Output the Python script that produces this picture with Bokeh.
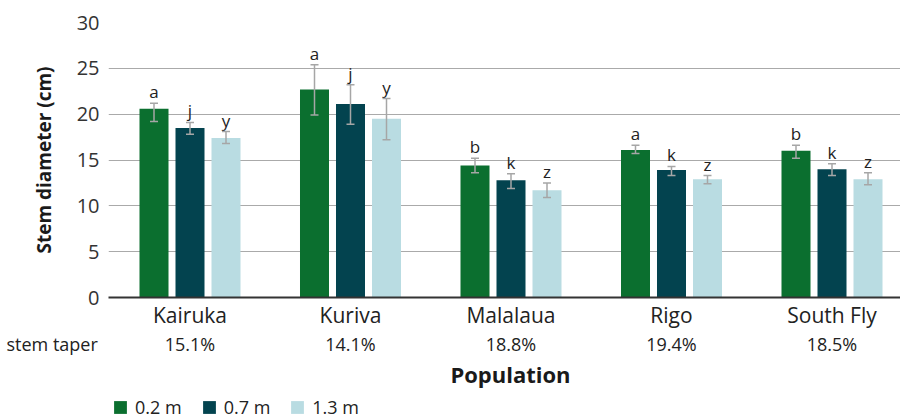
from bokeh.plotting import figure
from bokeh.models import (ColumnDataSource, Range1d, FixedTicker, LinearAxis, Whisker,
                          TeeHead, Legend, LegendItem)
from bokeh.layouts import column
from bokeh.core.properties import value
from bokeh.embed import file_html
from bokeh.resources import INLINE

# ---- data ----
categories = ["Kairuka", "Kuriva", "Malalaua", "Rigo", "South Fly"]
taper = ["15.1%", "14.1%", "18.8%", "19.4%", "18.5%"]
series = ["0.2 m", "0.7 m", "1.3 m"]

d02 = [20.6, 22.7, 14.4, 16.1, 16.0]
d07 = [18.5, 21.1, 12.8, 13.9, 14.0]
d13 = [17.4, 19.5, 11.7, 12.9, 12.9]

u02 = [21.2, 25.4, 15.2, 16.6, 16.6]
l02 = [19.2, 19.9, 13.6, 15.7, 15.2]
u07 = [19.1, 23.2, 13.5, 14.3, 14.6]
l07 = [17.8, 18.9, 11.9, 13.3, 13.3]
u13 = [18.1, 21.7, 12.5, 13.3, 13.6]
l13 = [16.8, 17.2, 10.9, 12.4, 12.3]

let02 = ["a", "a", "b", "a", "b"]
let07 = ["j", "j", "k", "k", "k"]
let13 = ["y", "y", "z", "z", "z"]

y_ticks = [0, 5, 10, 15, 20, 25, 30]

# ---- style / layout ----
colors = ["#0B6F2F", "#03434F", "#B9DCE2"]
FONT = "Open Sans"
TXT = "#222222"
offsets = [-0.2243, 0.0, 0.2243]
bar_w = 0.1807
X0, X1 = -0.5078, 4.4268          # main frame x range (frame: 108..900 px)
K = (X1 - X0) / 792.0             # data units per pixel

p = figure(width=900, height=331, output_backend="svg", toolbar_location=None,
           x_range=Range1d(X0, X1), y_range=Range1d(0, 30),
           min_border_left=108, min_border_right=0, min_border_top=22,
           min_border_bottom=32, x_axis_location=None)
p.frame_align = False
p.outline_line_color = None
p.xgrid.grid_line_color = None
p.ygrid.grid_line_color = "#aaaaaa"
p.ygrid.grid_line_width = 1
p.ygrid.ticker = FixedTicker(ticks=y_ticks)

xs = list(range(len(categories)))
for vals, up, lo, lets, off, col in zip([d02, d07, d13], [u02, u07, u13], [l02, l07, l13],
                                        [let02, let07, let13], offsets, colors):
    src = ColumnDataSource(dict(x=[x + off for x in xs], top=vals, upper=up, lower=lo, lab=lets))
    p.vbar(x="x", top="top", width=bar_w, bottom=0, source=src,
           fill_color=col, line_color=None)
    w = Whisker(base="x", upper="upper", lower="lower", source=src, level="overlay",
                line_color="#a6a6a6", line_width=1.5,
                upper_head=TeeHead(size=8, line_color="#a6a6a6", line_width=1.5),
                lower_head=TeeHead(size=8, line_color="#a6a6a6", line_width=1.5))
    p.add_layout(w)
    p.text(x="x", y="upper", text="lab", source=src, text_font=value(FONT),
           text_font_size="17px", text_color=TXT, text_align="center",
           text_baseline="bottom", y_offset=0)

# y axis
p.yaxis.ticker = FixedTicker(ticks=y_ticks)
p.yaxis.axis_line_color = None
p.yaxis.major_tick_line_color = None
p.yaxis.minor_tick_line_color = None
p.yaxis.major_tick_out = 0
p.yaxis.major_label_standoff = 9
p.yaxis.major_label_text_font = FONT
p.yaxis.major_label_text_font_size = "20px"
p.yaxis.major_label_text_color = "#333333"
p.yaxis.axis_label = "Stem diameter (cm)"
p.yaxis.axis_label_text_font = FONT
p.yaxis.axis_label_text_font_size = "19px"
p.yaxis.axis_label_text_font_style = "bold"
p.yaxis.axis_label_text_color = "#1a1a1a"
p.yaxis.axis_label_standoff = 17

# x axis: categories
xa = LinearAxis(ticker=FixedTicker(ticks=xs),
                major_label_overrides={i: c for i, c in enumerate(categories)})
xa.axis_line_color = "#333333"
xa.axis_line_width = 2
xa.major_tick_line_color = None
xa.minor_tick_line_color = None
xa.major_tick_out = 0
xa.major_tick_in = 0
xa.major_label_standoff = 3
xa.major_label_text_font = FONT
xa.major_label_text_font_size = "21px"
xa.major_label_text_color = TXT
p.add_layout(xa, "below")

# ---- lower strip: stem taper row, axis title, legend ----
QH = 88
q = figure(width=900, height=QH, output_backend="svg", toolbar_location=None,
           x_range=Range1d(X0 - 108 * K, X1), y_range=Range1d(QH, 0),
           min_border=0, min_border_left=0, min_border_right=0,
           min_border_top=0, min_border_bottom=0,
           x_axis_location=None, y_axis_location=None)
q.frame_align = False
q.outline_line_color = None
q.grid.visible = False

q.text(x=xs, y=[12.7] * len(xs), text=taper, text_font=value(FONT), text_font_size="18px",
       text_color=TXT, text_align="center", text_baseline="alphabetic")
q.text(x=[X0 - 102 * K], y=[12.7], text=["stem taper"], text_font=value(FONT),
       text_font_size="18px", text_color=TXT, text_align="left", text_baseline="alphabetic")
q.text(x=[X0 + 402 * K], y=[42.3], text=["Population"], text_font=value(FONT),
       text_font_size="22px", text_font_style="bold", text_color="#1a1a1a",
       text_align="center", text_baseline="alphabetic")

# legend swatches: renderers with a zero-height bar (nothing visible in the strip)
leg_r = [q.vbar(x=[0], top=[0], bottom=[0], width=bar_w, fill_color=c, line_color=None)
         for c in colors]
legend = Legend(items=[LegendItem(label=s, renderers=[r]) for s, r in zip(series, leg_r)],
                location=(112, 0), orientation="horizontal", glyph_width=16, glyph_height=16,
                label_text_font=FONT, label_text_font_size="18px", label_text_color=TXT,
                label_standoff=7, label_height=16, spacing=19, padding=0, margin=0,
                border_line_color=None, background_fill_alpha=0)
q.add_layout(legend, "center")

layout = column(p, q, spacing=0)
open("out.html", "w").write(file_html(layout, INLINE))
